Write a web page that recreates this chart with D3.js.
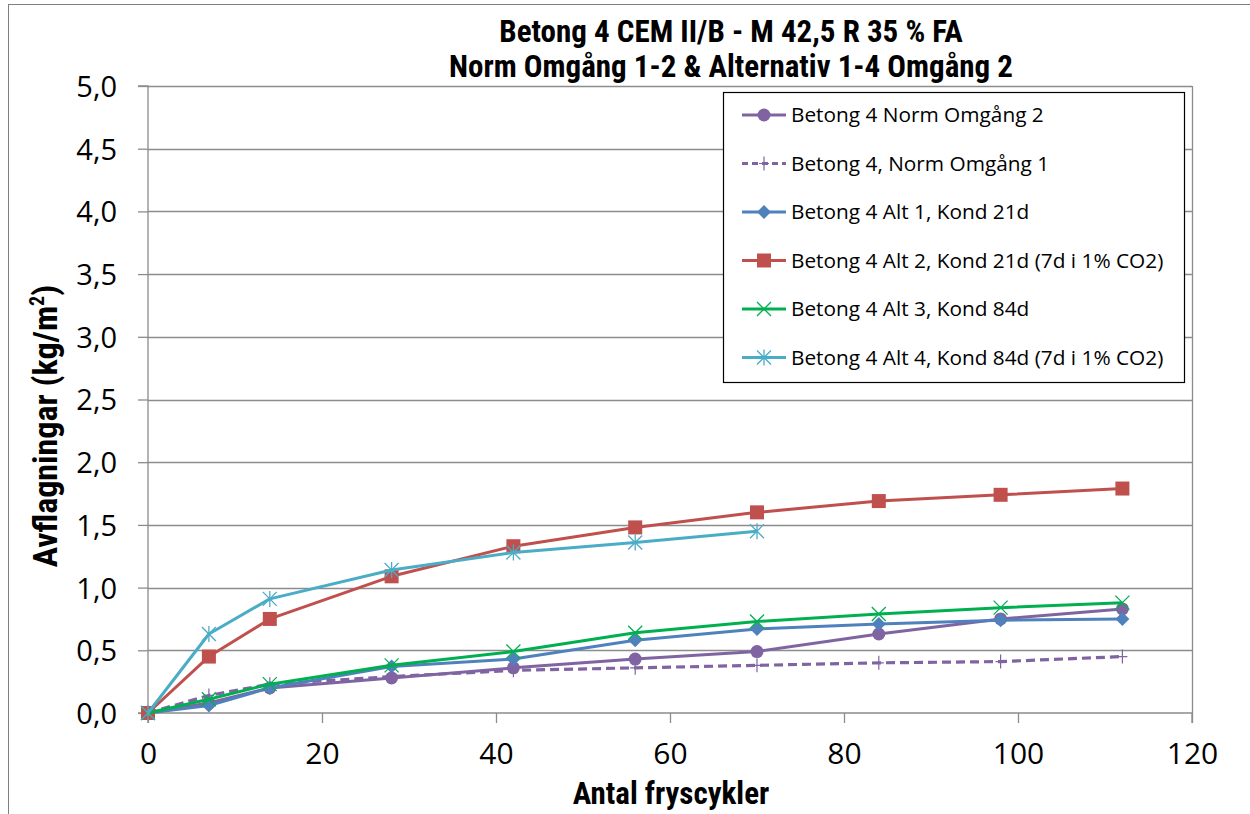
<!DOCTYPE html>
<html><head><meta charset="utf-8">
<script src="https://cdn.jsdelivr.net/npm/d3@7"></script>
<style>
body{margin:0;background:#fff;}
svg{display:block;}
.cond{font-family:"Liberation Sans Narrow","Arial Narrow","Roboto Condensed","Liberation Sans",sans-serif;font-stretch:condensed;}
</style></head>
<body>
<svg id="chart" width="1250" height="814"></svg>
<script>
const cycles = [0, 7, 14, 28, 42, 56, 70, 84, 98, 112];
const norm2 = [0, 0.08, 0.20, 0.28, 0.36, 0.43, 0.49, 0.63, 0.75, 0.83];
const norm1 = [0, 0.14, 0.23, 0.29, 0.34, 0.36, 0.38, 0.40, 0.41, 0.45];
const alt1 = [0, 0.06, 0.20, 0.37, 0.43, 0.58, 0.67, 0.71, 0.74, 0.75];
const alt2 = [0, 0.45, 0.75, 1.09, 1.33, 1.48, 1.60, 1.69, 1.74, 1.79];
const alt3 = [0, 0.11, 0.23, 0.38, 0.49, 0.64, 0.73, 0.79, 0.84, 0.88];
const alt4 = [0, 0.63, 0.91, 1.14, 1.28, 1.36, 1.45];
const seriesNames = [
  "Betong 4 Norm Omgång 2",
  "Betong 4, Norm Omgång 1",
  "Betong 4 Alt 1, Kond 21d",
  "Betong 4 Alt 2, Kond 21d (7d i 1% CO2)",
  "Betong 4 Alt 3, Kond 84d",
  "Betong 4 Alt 4, Kond 84d (7d i 1% CO2)"
];
const xTicks = [0, 20, 40, 60, 80, 100, 120];
const yTicks = [0, 0.5, 1, 1.5, 2, 2.5, 3, 3.5, 4, 4.5, 5];
const titleLines = ["Betong 4 CEM II/B - M 42,5 R 35 % FA", "Norm Omgång 1-2 & Alternativ 1-4 Omgång 2"];
const xTitle = "Antal fryscykler";

const series = [
  {name: seriesNames[0], vals: norm2, color: "#8064A2", marker: "circle", dash: null},
  {name: seriesNames[1], vals: norm1, color: "#8064A2", marker: "plus", dash: "9,5"},
  {name: seriesNames[2], vals: alt1, color: "#4F81BD", marker: "diamond", dash: null},
  {name: seriesNames[3], vals: alt2, color: "#C0504D", marker: "square", dash: null},
  {name: seriesNames[4], vals: alt3, color: "#00B050", marker: "x", dash: null},
  {name: seriesNames[5], vals: alt4, color: "#4BACC6", marker: "star", dash: null}
];

const svg = d3.select("#chart");
const L = 148, R = 1192, T = 86, B = 713;
const x = d3.scaleLinear().domain([0, 120]).range([L, R]);
const y = d3.scaleLinear().domain([0, 5]).range([B, T]);
const fmt = d => d3.format(".1f")(d).replace(".", ",");

// outer chart border
svg.append("rect").attr("x", 8.5).attr("y", 4.5).attr("width", 1260).attr("height", 840)
  .attr("fill", "none").attr("stroke", "#808080").attr("stroke-width", 1);

// gridlines
svg.append("g").selectAll("line").data(yTicks.filter(d => d > 0)).join("line")
  .attr("x1", L).attr("x2", R).attr("y1", d => Math.round(y(d)) + 0.5).attr("y2", d => Math.round(y(d)) + 0.5)
  .attr("stroke", "#8c8c8c").attr("stroke-width", 1.3);
svg.append("line").attr("x1", R + 0.5).attr("x2", R + 0.5).attr("y1", T).attr("y2", B).attr("stroke", "#8c8c8c").attr("stroke-width", 1.3);

// axes
const yAxis = d3.axisLeft(y).tickValues(yTicks).tickFormat(fmt).tickSize(10).tickPadding(21);
const gy = svg.append("g").attr("transform", `translate(${L},0)`).call(yAxis);
const xAxis = d3.axisBottom(x).tickValues(xTicks).tickFormat(d3.format("d")).tickSize(10).tickPadding(20);
const gx = svg.append("g").attr("transform", `translate(0,${B})`).call(xAxis);
[gy, gx].forEach(g => {
  g.select(".domain").attr("stroke", "#8c8c8c").attr("stroke-width", 1.3);
  g.selectAll(".tick line").attr("stroke", "#8c8c8c").attr("stroke-width", 1.3);
  g.selectAll(".tick text").attr("font-family", "'Open Sans', sans-serif").attr("fill", "#000");
});
gy.selectAll(".tick text").attr("font-size", 29).attr("dy", "0.36em");
gx.selectAll(".tick text").attr("font-size", 30);
gy.select(".domain").attr("d", `M-10,${T}H0V${B}H-10`);
gx.select(".domain").attr("d", `M${L},10V0H${R}V10`);

// titles
const tt = svg.append("text").attr("class", "cond").attr("x", 731).attr("text-anchor", "middle")
  .attr("font-weight", "bold").attr("font-size", 31).attr("fill", "#000");
titleLines.forEach((t, i) => tt.append("tspan").attr("x", 731).attr("y", 42 + i * 35).text(t));
svg.append("text").attr("class", "cond").attr("x", 671).attr("y", 804).attr("text-anchor", "middle")
  .attr("font-weight", "bold").attr("font-size", 31).text(xTitle);
const yt = svg.append("text").attr("class", "cond").attr("transform", "translate(57,426) rotate(-90)")
  .attr("text-anchor", "middle").attr("font-weight", "bold").attr("font-size", 34);
yt.append("tspan").text("Avflagningar (kg/m");
yt.append("tspan").attr("font-size", 20).attr("dy", -13).text("2");
yt.append("tspan").attr("dy", 13).text(")");

// marker drawing
function drawMarker(g, type, color) {
  if (type === "circle") g.append("circle").attr("r", 6.5).attr("fill", color);
  else if (type === "diamond") g.append("path").attr("d", "M0,-7L7,0L0,7L-7,0Z").attr("fill", color);
  else if (type === "square") g.append("rect").attr("x", -7).attr("y", -7).attr("width", 14).attr("height", 14).attr("fill", color);
  else if (type === "plus") g.append("path").attr("d", "M-5,0H5M0,-7V7").attr("stroke", color).attr("stroke-width", 1.2);
  else if (type === "x") g.append("path").attr("d", "M-7,-7L7,7M-7,7L7,-7").attr("stroke", color).attr("stroke-width", 1.3);
  else if (type === "star") g.append("path").attr("d", "M-7,-7L7,7M-7,7L7,-7M0,-8V8").attr("stroke", color).attr("stroke-width", 1.3);
}

const line = d3.line().x((d, i) => x(cycles[i])).y(d => y(d));
const plot = svg.append("g");
series.forEach(s => {
  const g = plot.append("g");
  g.append("path").attr("d", line(s.vals)).attr("fill", "none").attr("stroke", s.color)
    .attr("stroke-width", s.dash ? 3.2 : 3).attr("stroke-dasharray", s.dash).attr("stroke-linejoin", "round");
  s.vals.forEach((v, i) => {
    const m = g.append("g").attr("transform", `translate(${x(cycles[i])},${y(v)})`);
    drawMarker(m, s.marker, s.color);
  });
});

// legend
const lg = svg.append("g");
lg.append("rect").attr("x", 723.5).attr("y", 92.5).attr("width", 461).attr("height", 290)
  .attr("fill", "#fff").attr("stroke", "#000").attr("stroke-width", 1.2);
series.forEach((s, i) => {
  const cy = 115 + i * 48.5;
  lg.append("line").attr("x1", 742).attr("x2", 786).attr("y1", cy).attr("y2", cy)
    .attr("stroke", s.color).attr("stroke-width", 3).attr("stroke-dasharray", s.dash ? "6,4" : null);
  const m = lg.append("g").attr("transform", `translate(764,${cy})`);
  drawMarker(m, s.marker, s.color);
  lg.append("text").attr("x", 791).attr("y", cy).attr("dy", "0.35em")
    .attr("font-family", "'Open Sans', sans-serif").attr("font-size", 20.8).attr("fill", "#000").text(s.name);
});
</script>
</body></html>
